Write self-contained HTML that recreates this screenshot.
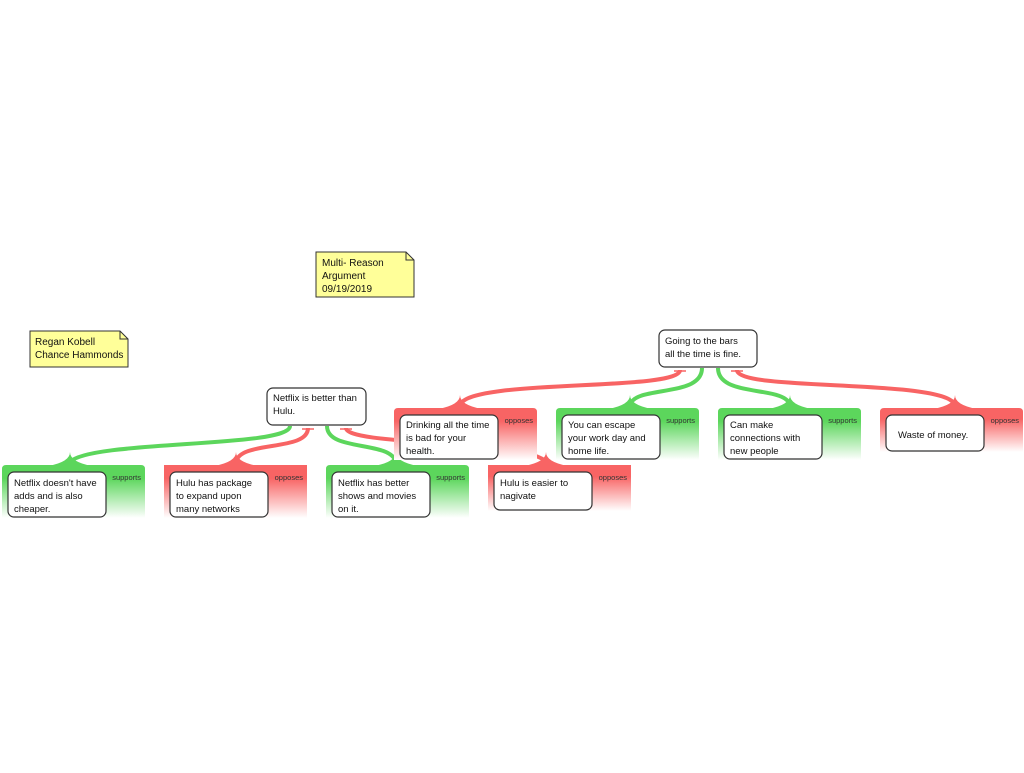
<!DOCTYPE html>
<html><head><meta charset="utf-8"><style>
body{margin:0;background:#fff;}
svg text{font-family:"Liberation Sans",sans-serif;}
</style></head><body>
<svg width="1024" height="768" viewBox="0 0 1024 768" xmlns="http://www.w3.org/2000/svg">
<defs>
<linearGradient id="gg" x1="0" y1="0" x2="0" y2="1"><stop offset="0" stop-color="#5cd65c"/><stop offset="0.25" stop-color="#5cd65c"/><stop offset="1" stop-color="#fff"/></linearGradient>
<linearGradient id="rg" x1="0" y1="0" x2="0" y2="1"><stop offset="0" stop-color="#f86464"/><stop offset="0.25" stop-color="#f86464"/><stop offset="1" stop-color="#fff"/></linearGradient>
</defs>
<!-- connectors -->
<g fill="none" stroke-width="4">
<path d="M290,426 C290,448 90,440 70,462" stroke="#5cd65c"/>
<path d="M308,428 C308,452 240,440 236,462" stroke="#f86464"/>
<path d="M327,426 C327,452 390,440 396,462" stroke="#5cd65c"/>
<path d="M346,428 C346,446 530,440 546,462" stroke="#f86464"/>
<path d="M680,370 C680,392 470,378 460,405" stroke="#f86464"/>
<path d="M702,368 C702,398 635,385 630,405" stroke="#5cd65c"/>
<path d="M718,368 C718,398 785,385 790,405" stroke="#5cd65c"/>
<path d="M737,370 C737,392 945,378 955,405" stroke="#f86464"/>
</g>
<g>
<path d="M48,466 Q70,462 70,452 Q70,462 92,466Z" fill="#5cd65c"/>
<path d="M214,466 Q236,462 236,452 Q236,462 258,466Z" fill="#f86464"/>
<path d="M374,466 Q396,462 396,452 Q396,462 418,466Z" fill="#5cd65c"/>
<path d="M524,466 Q546,462 546,452 Q546,462 568,466Z" fill="#f86464"/>
<path d="M438,409 Q460,405 460,395 Q460,405 482,409Z" fill="#f86464"/>
<path d="M608,409 Q630,405 630,395 Q630,405 652,409Z" fill="#5cd65c"/>
<path d="M768,409 Q790,405 790,395 Q790,405 812,409Z" fill="#5cd65c"/>
<path d="M933,409 Q955,405 955,395 Q955,405 977,409Z" fill="#f86464"/>
</g>
<g stroke="#f86464" stroke-width="1.5">
<line x1="302" y1="429" x2="314" y2="429"/><line x1="340" y1="429" x2="352" y2="429"/>
<line x1="674" y1="371" x2="686" y2="371"/><line x1="731" y1="371" x2="743" y2="371"/>
</g>
<!-- panels -->
<g>
<path d="M394,460 V412 Q394,408 398,408 H533 Q537,408 537,412 V460Z" fill="url(#rg)"/>
<path d="M556,460 V412 Q556,408 560,408 H695 Q699,408 699,412 V460Z" fill="url(#gg)"/>
<path d="M718,460 V412 Q718,408 722,408 H857 Q861,408 861,412 V460Z" fill="url(#gg)"/>
<path d="M880,452 V412 Q880,408 884,408 H1019 Q1023,408 1023,412 V452Z" fill="url(#rg)"/>
<path d="M2,518 V469 Q2,465 6,465 H141 Q145,465 145,469 V518Z" fill="url(#gg)"/>
<path d="M164,518 V465 H307 V518Z" fill="url(#rg)"/>
<path d="M326,518 V469 Q326,465 330,465 H465 Q469,465 469,469 V518Z" fill="url(#gg)"/>
<path d="M488,511 V465 H631 V511Z" fill="url(#rg)"/>
</g>
<g font-size="7.5" fill="#333" text-anchor="end">
<text x="533" y="423">opposes</text><text x="695" y="423">supports</text><text x="857" y="423">supports</text><text x="1019" y="423">opposes</text>
<text x="141" y="480">supports</text><text x="303" y="480">opposes</text><text x="465" y="480">supports</text><text x="627" y="480">opposes</text>
</g>
<!-- boxes -->
<g fill="#fff" stroke="#333" stroke-width="1.2">
<rect x="267" y="388" width="99" height="37" rx="6"/>
<rect x="659" y="330" width="98" height="37" rx="6"/>
<rect x="400" y="415" width="98" height="44" rx="6"/>
<rect x="562" y="415" width="98" height="44" rx="6"/>
<rect x="724" y="415" width="98" height="44" rx="6"/>
<rect x="886" y="415" width="98" height="36" rx="6"/>
<rect x="8" y="472" width="98" height="45" rx="6"/>
<rect x="170" y="472" width="98" height="45" rx="6"/>
<rect x="332" y="472" width="98" height="45" rx="6"/>
<rect x="494" y="472" width="98" height="38" rx="6"/>
</g>
<g font-size="9.5" fill="#111">
<text x="273" y="401">Netflix is better than</text><text x="273" y="414">Hulu.</text>
<text x="665" y="344">Going to the bars</text><text x="665" y="357">all the time is fine.</text>
<text x="406" y="428">Drinking all the time</text><text x="406" y="441">is bad for your</text><text x="406" y="454">health.</text>
<text x="568" y="428">You can escape</text><text x="568" y="441">your work day and</text><text x="568" y="454">home life.</text>
<text x="730" y="428">Can make</text><text x="730" y="441">connections with</text><text x="730" y="454">new people</text>
<text x="898" y="438">Waste of money.</text>
<text x="14" y="486">Netflix doesn't have</text><text x="14" y="499">adds and is also</text><text x="14" y="512">cheaper.</text>
<text x="176" y="486">Hulu has package</text><text x="176" y="499">to expand upon</text><text x="176" y="512">many networks</text>
<text x="338" y="486">Netflix has better</text><text x="338" y="499">shows and movies</text><text x="338" y="512">on it.</text>
<text x="500" y="486">Hulu is easier to</text><text x="500" y="499">nagivate</text>
</g>
<!-- notes -->
<g fill="#ffff99" stroke="#333" stroke-width="1">
<path d="M316,252 H406 L414,260 V297 H316Z"/>
<path d="M30,331 H120 L128,339 V367 H30Z"/>
</g>
<g fill="none" stroke="#333"><path d="M406,252 V260 H414"/><path d="M120,331 V339 H128"/></g>
<g font-size="10" fill="#111" font-family="'Comic Sans MS','Liberation Sans',sans-serif">
<text x="322" y="266">Multi- Reason</text><text x="322" y="279">Argument</text><text x="322" y="292">09/19/2019</text>
<text x="35" y="345">Regan Kobell</text><text x="35" y="358">Chance Hammonds</text>
</g>
</svg>
</body></html>
